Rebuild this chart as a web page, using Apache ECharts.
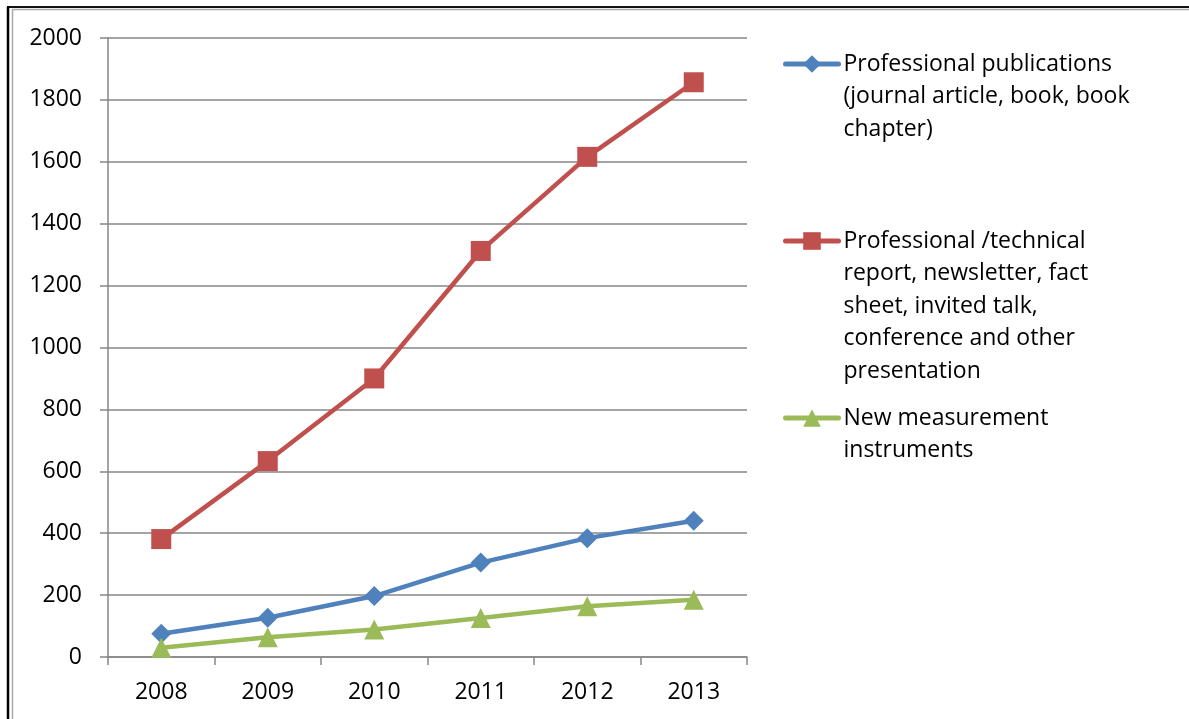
<!DOCTYPE html>
<html>
<head>
<meta charset="utf-8">
<script src="https://cdn.jsdelivr.net/npm/echarts@6/dist/echarts.min.js"></script>
<style>
  html, body { margin: 0; padding: 0; background: #fff; }
  #chart { width: 1189px; height: 719px; }
</style>
</head>
<body>
<div id="chart"></div>
<script>
// Output counts per year, by product type
const years = ['2008', '2009', '2010', '2011', '2012', '2013'];
const publications = [75, 127, 197, 305, 384, 440];
const reports = [381, 633, 900, 1312, 1616, 1857];
const instruments = [30, 64, 89, 126, 164, 185];

const seriesNames = [
  'Professional publications (journal article, book, book chapter)',
  'Professional /technical report, newsletter, fact sheet, invited talk, conference and other presentation',
  'New measurement instruments'
];
// Wrapped legend text, one entry per series
const legendLines = [
  ['Professional publications', '(journal article, book, book', 'chapter)'],
  ['Professional /technical', 'report, newsletter, fact', 'sheet, invited talk,', 'conference and other', 'presentation'],
  ['New measurement', 'instruments']
];

const FONT = '"Open Sans", "Liberation Sans", sans-serif';
const GREY = '#868686';
const LH = 32.5;

const chart = echarts.init(document.getElementById('chart'), null, { renderer: 'canvas' });

// Each legend entry is its own component so its first text line sits beside the icon.
// Leading blank lines keep the (vertically centred) text block aligned on line one;
// iconY is where the icon and the first line should be centred.
function legendFor(i, iconY) {
  const lines = legendLines[i];
  const pad = new Array(lines.length - 1).fill('');
  return {
    data: [seriesNames[i]],
    left: 783,
    top: iconY - LH / 2 - (lines.length - 1) * LH,
    padding: 0,
    orient: 'vertical',
    itemWidth: 53,
    itemHeight: 22,
    selectedMode: false,
    lineStyle: { width: 5, cap: 'round' },
    formatter: () => pad.concat(lines).join('\n'),
    textStyle: {
      fontFamily: FONT,
      fontSize: 23,
      color: '#000',
      lineHeight: LH
    }
  };
}

function lineSeries(i, data, color, symbol) {
  return {
    name: seriesNames[i],
    type: 'line',
    data: data,
    symbol: symbol,
    symbolSize: 20,
    lineStyle: { color: color, width: 4.5 },
    itemStyle: { color: color },
    emphasis: { disabled: true },
    animation: false
  };
}

chart.setOption({
  backgroundColor: '#fff',
  animation: false,
  grid: { left: 108, right: 442, top: 38, bottom: 62 },
  legend: [
    legendFor(0, 64),
    legendFor(1, 241),
    legendFor(2, 418)
  ],
  xAxis: {
    type: 'category',
    data: years,
    boundaryGap: true,
    axisLine: { lineStyle: { color: GREY, width: 1.5 } },
    axisTick: { show: true, length: 8, inside: false, alignWithLabel: false, lineStyle: { color: GREY, width: 1.5 } },
    axisLabel: { fontFamily: FONT, fontSize: 23, color: '#000', margin: 24 }
  },
  yAxis: {
    type: 'value',
    min: 0,
    max: 2000,
    interval: 200,
    axisLine: { show: true, lineStyle: { color: GREY, width: 1.5 } },
    axisTick: { show: true, length: 8, lineStyle: { color: GREY, width: 1.5 } },
    splitLine: { show: true, lineStyle: { color: GREY, width: 1.5 } },
    axisLabel: { fontFamily: FONT, fontSize: 23, color: '#000', margin: 26, formatter: (v) => String(v) }
  },
  series: [
    lineSeries(0, publications, '#4F81BD', 'diamond'),
    lineSeries(1, reports, '#C0504D', 'rect'),
    lineSeries(2, instruments, '#9BBB59', 'triangle')
  ],
  graphic: [
    // page frame: dark outer rule with a light inner rule, top and left
    { type: 'line', shape: { x1: 7, y1: 7, x2: 1189, y2: 7 }, style: { stroke: '#111', lineWidth: 2 } },
    { type: 'line', shape: { x1: 8, y1: 7, x2: 8, y2: 719 }, style: { stroke: '#000', lineWidth: 2.5 } },
    { type: 'line', shape: { x1: 12, y1: 9.5, x2: 1189, y2: 9.5 }, style: { stroke: '#a8a8a8', lineWidth: 1.5 } },
    { type: 'line', shape: { x1: 12.5, y1: 9.5, x2: 12.5, y2: 719 }, style: { stroke: '#a8a8a8', lineWidth: 1.5 } }
  ]
});
</script>
</body>
</html>
